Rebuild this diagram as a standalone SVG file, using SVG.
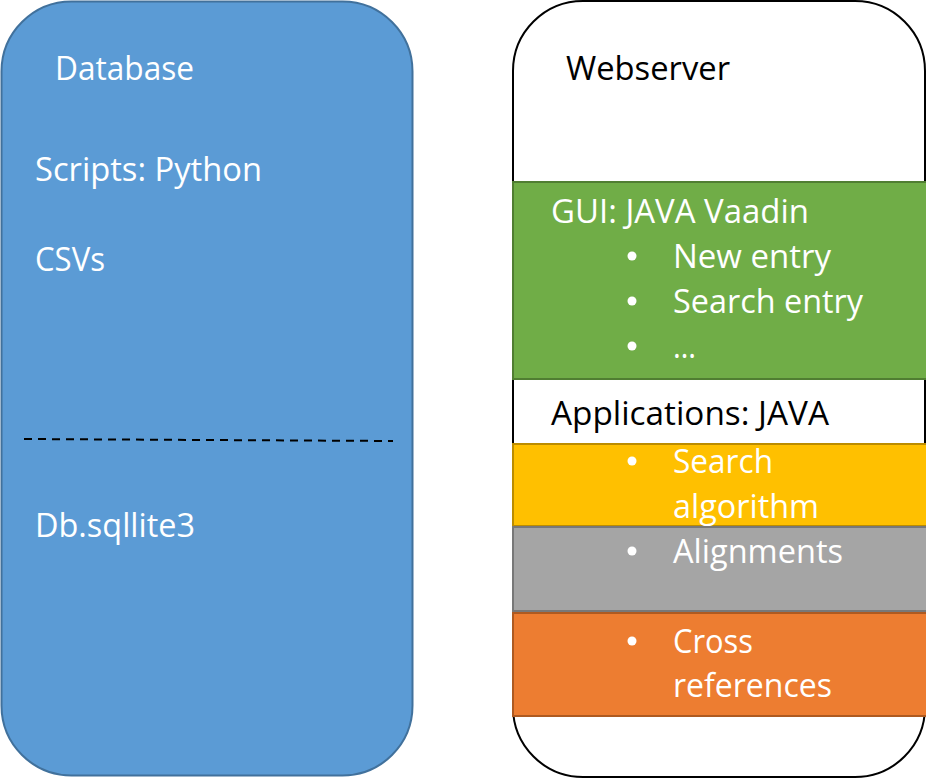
<svg xmlns="http://www.w3.org/2000/svg" width="926" height="778" viewBox="0 0 926 778">
<style>
text{font-family:"Open Sans","Liberation Sans",sans-serif;font-size:32px}
.w{fill:#ffffff}
.k{fill:#000000}
</style>
<rect width="926" height="778" fill="#ffffff"/>
<g id="database">
<rect x="1.5" y="1.5" width="411" height="774" rx="70" ry="70" fill="#5B9BD5" stroke="#41719C" stroke-width="2"/>
<text class="w" x="55" y="80" textLength="139" lengthAdjust="spacingAndGlyphs">Database</text>
<text class="w" x="35" y="181" textLength="227" lengthAdjust="spacingAndGlyphs">Scripts: Python</text>
<text class="w" x="35" y="271" textLength="70" lengthAdjust="spacingAndGlyphs">CSVs</text>
<line x1="24" y1="439" x2="393" y2="441" stroke="#000000" stroke-width="2" stroke-dasharray="8 6"/>
<text class="w" x="35" y="537" textLength="160" lengthAdjust="spacingAndGlyphs">Db.sqllite3</text>
</g>
<g id="webserver">
<rect x="513" y="1" width="412" height="776" rx="70" ry="70" fill="#ffffff" stroke="#000000" stroke-width="2"/>
<text class="k" x="566" y="80" textLength="164" lengthAdjust="spacingAndGlyphs">Webserver</text>
</g>
<g id="gui">
<rect x="513" y="182" width="414" height="197" fill="#70AD47" stroke="#507E32" stroke-width="2"/>
<text class="w" x="551" y="223" textLength="258" lengthAdjust="spacingAndGlyphs">GUI: JAVA Vaadin</text>
<circle class="w" cx="632" cy="256" r="4.5"/>
<text class="w" x="673" y="268" textLength="158" lengthAdjust="spacingAndGlyphs">New entry</text>
<circle class="w" cx="632" cy="301" r="4.5"/>
<text class="w" x="673" y="313" textLength="190" lengthAdjust="spacingAndGlyphs">Search entry</text>
<circle class="w" cx="632" cy="346" r="4.5"/>
<text class="w" x="673" y="358" textLength="23" lengthAdjust="spacingAndGlyphs">…</text>
</g>
<g id="applications">
<text class="k" x="551" y="425" textLength="278" lengthAdjust="spacingAndGlyphs">Applications: JAVA</text>
</g>
<g id="search">
<rect x="513" y="444" width="414" height="82" fill="#FFC000" stroke="#BC8C00" stroke-width="2"/>
<circle class="w" cx="632" cy="461" r="4.5"/>
<text class="w" x="673" y="473" textLength="100" lengthAdjust="spacingAndGlyphs">Search</text>
<text class="w" x="673" y="518" textLength="146" lengthAdjust="spacingAndGlyphs">algorithm</text>
</g>
<g id="alignments">
<rect x="513" y="527" width="414" height="84" fill="#A5A5A5" stroke="#787878" stroke-width="2"/>
<circle class="w" cx="632" cy="551" r="4.5"/>
<text class="w" x="673" y="563" textLength="170" lengthAdjust="spacingAndGlyphs">Alignments</text>
</g>
<g id="crossref">
<rect x="513" y="613" width="414" height="103" fill="#ED7D31" stroke="#AE5A21" stroke-width="2"/>
<circle class="w" cx="632" cy="641" r="4.5"/>
<text class="w" x="673" y="653" textLength="80" lengthAdjust="spacingAndGlyphs">Cross</text>
<text class="w" x="673" y="697" textLength="159" lengthAdjust="spacingAndGlyphs">references</text>
</g>
<g id="connectors"/>
</svg>
